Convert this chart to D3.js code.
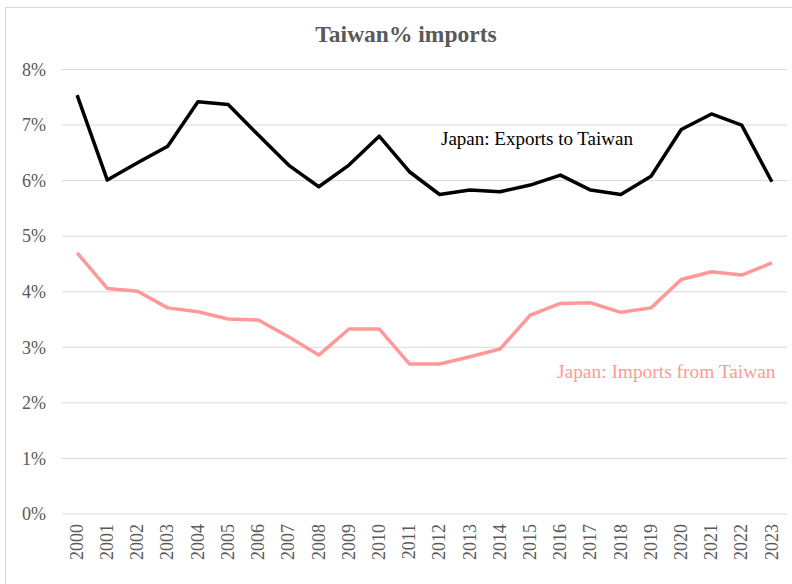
<!DOCTYPE html>
<html>
<head>
<meta charset="utf-8">
<script src="https://cdn.jsdelivr.net/npm/d3@7"></script>
<style>
  body { margin: 0; background: #fff; }
  text { font-family: "Liberation Serif", "Times New Roman", serif; }
</style>
</head>
<body>
<div id="main"></div>
<script>
var years = ["2000", "2001", "2002", "2003", "2004", "2005", "2006", "2007", "2008", "2009", "2010", "2011",
    "2012", "2013", "2014", "2015", "2016", "2017", "2018", "2019", "2020", "2021", "2022", "2023"];

// share of Japan's trade going to / coming from Taiwan, in %
var exportsToTaiwan = [7.54, 6.01, 6.32, 6.62, 7.42, 7.37, 6.82, 6.28, 5.89, 6.28, 6.80, 6.16,
    5.75, 5.83, 5.80, 5.92, 6.10, 5.83, 5.75, 6.08, 6.92, 7.20, 7.00, 5.98];
var importsFromTaiwan = [4.70, 4.06, 4.01, 3.71, 3.64, 3.51, 3.49, 3.19, 2.86, 3.33, 3.33, 2.70,
    2.70, 2.83, 2.97, 3.58, 3.79, 3.80, 3.63, 3.71, 4.22, 4.36, 4.30, 4.52];

var yTicks = [0, 1, 2, 3, 4, 5, 6, 7, 8];

var ctx = {
    w: 792,
    h: 584,
    left: 62,
    right: 787,
    top: 69.5,
    bottom: 514,
};

var svg = d3.select("#main").append("svg")
    .attr("width", ctx.w)
    .attr("height", ctx.h);

// chart frame
svg.append("rect")
    .attr("x", 5.5)
    .attr("y", 7.5)
    .attr("width", 800)
    .attr("height", 600)
    .attr("fill", "none")
    .attr("stroke", "#d9d9d9");

var x = d3.scaleBand().domain(years).range([ctx.left, ctx.right]);
var y = d3.scaleLinear().domain([0, 8]).range([ctx.bottom, ctx.top]);

// gridlines
svg.append("g")
    .selectAll("line")
    .data(yTicks)
    .enter()
    .append("line")
    .attr("x1", ctx.left)
    .attr("x2", ctx.right)
    .attr("y1", (d) => y(d))
    .attr("y2", (d) => y(d))
    .attr("stroke", "#d9d9d9")
    .attr("stroke-width", 1);

// y axis labels
var yAxis = d3.axisLeft(y)
    .tickValues(yTicks)
    .tickSize(0)
    .tickPadding(16)
    .tickFormat((d) => d + "%");
var gy = svg.append("g").attr("transform", `translate(${ctx.left},0)`).call(yAxis);
gy.select(".domain").remove();
gy.selectAll("text")
    .attr("font-size", 18)
    .attr("fill", "#595959")
    .attr("font-family", "Liberation Serif, serif");

// x axis labels, rotated
var xAxis = d3.axisBottom(x).tickSize(0).tickPadding(0);
var gx = svg.append("g").attr("transform", `translate(0,${ctx.bottom})`).call(xAxis);
gx.select(".domain").remove();
gx.selectAll("text")
    .attr("font-size", 18)
    .attr("fill", "#595959")
    .attr("font-family", "Liberation Serif, serif")
    .attr("transform", "rotate(-90)")
    .attr("text-anchor", "end")
    .attr("dy", "0.32em")
    .attr("x", -10)
    .attr("y", 0);

var line = d3.line()
    .x((d, i) => x(years[i]) + x.bandwidth() / 2)
    .y((d) => y(d));

svg.append("path")
    .datum(importsFromTaiwan)
    .attr("d", line)
    .attr("fill", "none")
    .attr("stroke", "#ff9999")
    .attr("stroke-width", 3.5)
    .attr("stroke-linejoin", "round");

svg.append("path")
    .datum(exportsToTaiwan)
    .attr("d", line)
    .attr("fill", "none")
    .attr("stroke", "#000")
    .attr("stroke-width", 3.5)
    .attr("stroke-linejoin", "round");

// title
svg.append("text")
    .attr("x", 406)
    .attr("y", 42)
    .attr("text-anchor", "middle")
    .attr("font-size", 23.5)
    .attr("font-weight", "bold")
    .attr("fill", "#595959")
    .text("Taiwan% imports");

// series labels
svg.append("text")
    .attr("x", 441)
    .attr("y", 145)
    .attr("font-size", 19)
    .attr("fill", "#000")
    .text("Japan: Exports to Taiwan");

svg.append("text")
    .attr("x", 557)
    .attr("y", 378)
    .attr("font-size", 19.4)
    .attr("fill", "#ff9999")
    .text("Japan: Imports from Taiwan");
</script>
</body>
</html>
